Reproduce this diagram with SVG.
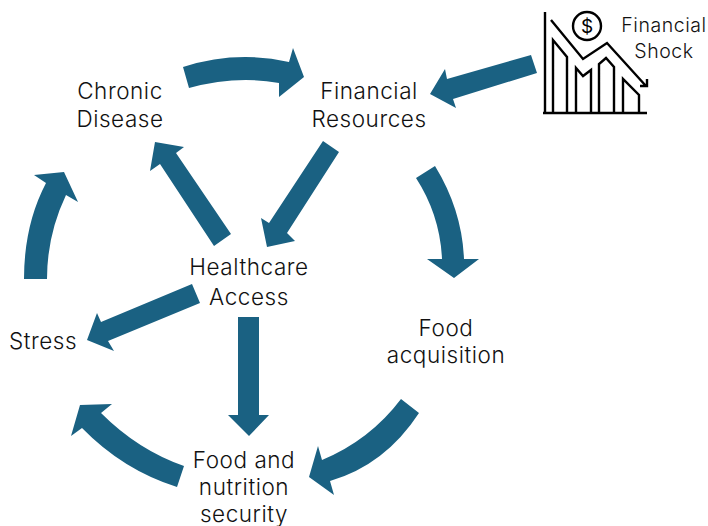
<svg xmlns="http://www.w3.org/2000/svg" width="708" height="526" viewBox="0 0 708 526">
<style>
.a{fill:#1a6182}
text{font-family:"Inter","Liberation Sans",sans-serif;font-size:22.5px;font-weight:340;letter-spacing:.55px;fill:#111;text-anchor:middle}
.s{font-size:19.5px;letter-spacing:.55px}
.d{font-size:19px;font-weight:400;fill:#000;letter-spacing:0}
.i{fill:none;stroke:#000;stroke-width:2.4}
</style>
<rect width="708" height="526" fill="#fff"/>
<g id="connectors">
<path class="a" d="M183 67Q236 50 289 62L293 48L304 77L279 97L279 83Q236 75 189 88Z"/>
<path class="a" d="M323 141L339 152L287 233L295 241L267 247L261 218L269 223Z"/>
<path class="a" d="M231 234L214 246L160 164L150 171L155 142L184 147L176 153Z"/>
<path class="a" d="M24 279Q24 225 46 183L34 175L64 172L78 202L66 195Q47 235 47 279Z"/>
<path class="a" d="M192 284L200 303L108 341L114 351L87 340L97 313L101 322Z"/>
<path class="a" d="M238 317H259V415H269L249 436L228 415H238Z"/>
<path class="a" d="M184 466L177 487Q123 470 82 428L71 436L80 405L112 404L101 413Q138 450 184 466Z"/>
<path class="a" d="M416 178L435 166Q462 210 464 259H479L454 278L427 259H442Q440 215 416 178Z"/>
<path class="a" d="M401 399L419 413Q385 465 330 481L334 495L309 477L318 446L322 460Q370 440 401 399Z"/>
<path class="a" d="M531 55L537 73L453 99L456 108L430 94L445 69L447 79Z"/>
</g>
<g id="node-chronic"><text x="120" y="99">Chronic</text><text x="120" y="127">Disease</text></g>
<g id="node-financial"><text x="369" y="99">Financial</text><text x="369" y="127">Resources</text></g>
<g id="node-healthcare"><text x="249" y="275">Healthcare</text><text x="249" y="305">Access</text></g>
<g id="node-stress"><text x="43" y="349">Stress</text></g>
<g id="node-acquisition"><text x="446" y="336">Food</text><text x="446" y="363">acquisition</text></g>
<g id="node-security"><text x="244" y="468">Food and</text><text x="244" y="495">nutrition</text><text x="244" y="522">security</text></g>
<g id="node-shock">
<path class="i" d="M545 12V113M543 113H647"/>
<path class="i" d="M551 20L583 59L607 43L646 86M640 86H647V79"/>
<path class="i" d="M553 113V40L567 57V113M576 113V68L583 76L591 70V113M599 113V64L606 58L614 67V113M623 113V79L639 95V113"/>
<circle class="i" cx="587" cy="26" r="14"/>
<text class="d" x="587" y="33">$</text>
<text class="s" x="664" y="32">Financial</text>
<text class="s" x="664" y="58">Shock</text>
</g>
</svg>
